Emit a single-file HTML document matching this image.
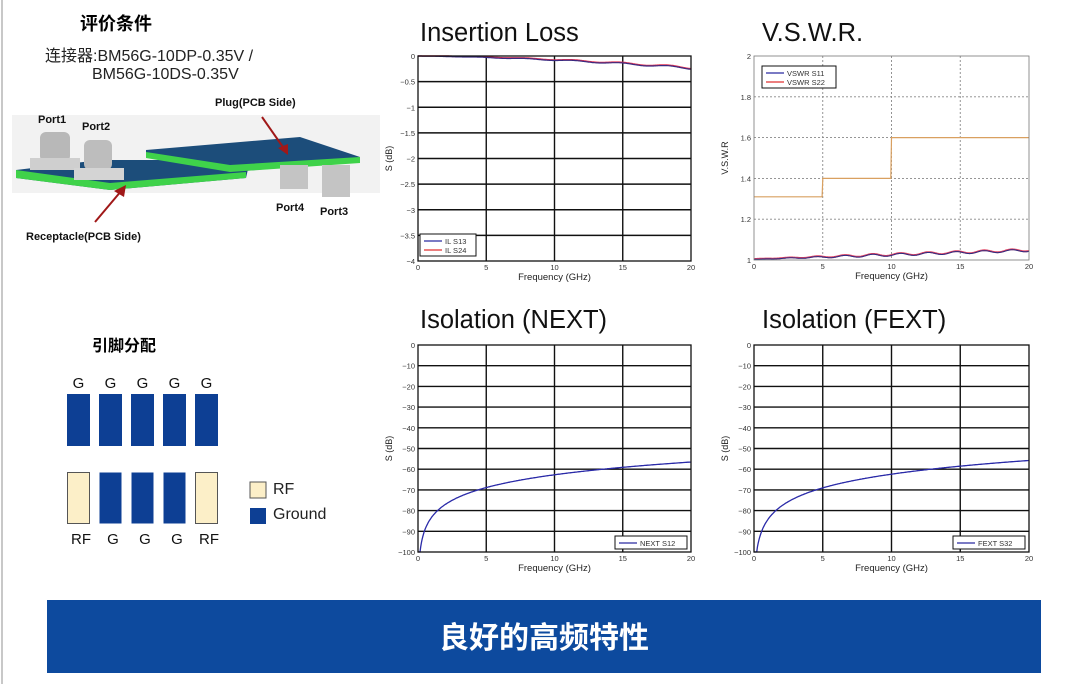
<!DOCTYPE html>
<html><head><meta charset="utf-8"><style>
body{margin:0;background:#fff;}
svg text{font-family:"Liberation Sans","Noto Sans CJK SC",sans-serif;}
</style></head><body>
<svg id="s" width="1075" height="684" xmlns="http://www.w3.org/2000/svg">
<rect width="1075" height="684" fill="#fff"/>
<line x1="2" y1="0" x2="2" y2="684" stroke="#c8c8c8" stroke-width="2"/>
<text x="80" y="30" font-size="18" font-weight="bold">评价条件</text>
<text x="45" y="61" font-size="16" fill="#222">连接器:BM56G-10DP-0.35V /</text>
<text x="92" y="79" font-size="16" fill="#222">BM56G-10DS-0.35V</text>
<rect x="12" y="115" width="368" height="78" fill="#f2f2f2"/>
<polygon points="16,170 100,160 250,160 246,178 110,190 16,178" fill="#1c4d7a"/>
<polygon points="16,170 110,183 246,172 246,178 110,190 16,178" fill="#3fd24a"/>
<polygon points="146,150 300,137 360,157 360,162 230,172 146,157" fill="#1c4d7a"/>
<polygon points="146,152 230,165 360,157 360,163 230,172 146,158" fill="#3fd24a"/>
<rect x="40" y="132" width="30" height="30" rx="6" fill="#b8b8b8"/>
<rect x="30" y="158" width="50" height="12" fill="#cfcfcf"/>
<rect x="84" y="140" width="28" height="30" rx="6" fill="#bdbdbd"/>
<rect x="74" y="168" width="50" height="12" fill="#d4d4d4"/>
<rect x="280" y="165" width="28" height="24" fill="#c4c4c4"/>
<rect x="322" y="165" width="28" height="32" fill="#c4c4c4"/>
<line x1="262" y1="117" x2="285" y2="150" stroke="#a01818" stroke-width="2"/>
<polygon points="288,155 278,148 288,144" fill="#a01818"/>
<line x1="95" y1="222" x2="122" y2="190" stroke="#a01818" stroke-width="2"/>
<polygon points="126,185 124,197 114,191" fill="#a01818"/>
<g font-size="11" font-weight="bold" fill="#111">
<text x="38" y="123">Port1</text><text x="82" y="130">Port2</text>
<text x="215" y="106">Plug(PCB Side)</text>
<text x="276" y="211">Port4</text><text x="320" y="215">Port3</text>
<text x="26" y="240">Receptacle(PCB Side)</text>
</g>
<text x="92" y="351" font-size="16" font-weight="bold">引脚分配</text>
<g id="pins"></g>
<text x="273" y="494" font-size="16" fill="#222">RF</text>
<text x="273" y="519" font-size="16" fill="#222">Ground</text>
<rect x="250" y="482" width="16" height="16" fill="#fcefc8" stroke="#555"/>
<rect x="250" y="508" width="16" height="16" fill="#0d3f94"/>
<g font-size="25.5" fill="#111">
<text x="420" y="41">Insertion Loss</text><text x="762" y="41">V.S.W.R.</text>
<text x="420" y="328">Isolation (NEXT)</text><text x="762" y="328">Isolation (FEXT)</text>
</g>
<g id="charts"></g>
<rect x="47" y="600" width="994" height="73" fill="#0d4a9e"/>
<text x="544" y="648" font-size="30" font-weight="bold" fill="#fff" text-anchor="middle">良好的高频特性</text>
</svg>
<script>
const NS="http://www.w3.org/2000/svg";
function el(p,t,a,txt){const e=document.createElementNS(NS,t);for(const k in a)e.setAttribute(k,a[k]);if(txt!==undefined)e.textContent=txt;p.appendChild(e);return e;}
const pins=document.getElementById('pins');
const lb=["RF","G","G","G","RF"];
for(let i=0;i<5;i++){const x=67+32*i;
el(pins,'rect',{x:x,y:394,width:23,height:52,fill:'#0d3f94'});
el(pins,'text',{x:x+11.5,y:388,'font-size':15,'text-anchor':'middle',fill:'#111'},'G');
const rf=(i==0||i==4);
el(pins,'rect',{x:x+.5,y:472.5,width:22,height:51,fill:rf?'#fcefc8':'#0d3f94',stroke:rf?'#555':'none'});
el(pins,'text',{x:x+14,y:544,'font-size':15,'text-anchor':'middle',fill:'#111'},lb[i]);}
const C=document.getElementById('charts');
function chart(o){
const {x0,x1,y0,y1,ymin,ymax,ystep,dotted,ylab,curves,legend,lpos}=o;
const g=el(C,'g',{});
const X=f=>x0+(x1-x0)*f/20, Y=v=>y0+(y1-y0)*(ymax-v)/(ymax-ymin);
el(g,'rect',{x:x0,y:y0,width:x1-x0,height:y1-y0,fill:'#fff'});
const n=Math.round((ymax-ymin)/ystep);
for(let i=0;i<=n;i++){const v=ymin+i*ystep,y=Y(v);
if(i>0&&i<n)el(g,'line',{x1:x0,x2:x1,y1:y,y2:y,stroke:dotted?'#888':'#111','stroke-width':dotted?0.9:1.4,'stroke-dasharray':dotted?'2,2':''});
let s=o.fmt(v);el(g,'text',{x:x0-3,y:y+3,'font-size':7.5,'text-anchor':'end',fill:'#333'},s);}
for(let f=0;f<=20;f+=5){const x=X(f);
if(f>0&&f<20)el(g,'line',{x1:x,x2:x,y1:y0,y2:y1,stroke:dotted?'#888':'#111','stroke-width':dotted?0.9:1.4,'stroke-dasharray':dotted?'2,2':''});
el(g,'text',{x:x,y:y1+9,'font-size':7.5,'text-anchor':'middle',fill:'#333'},f);}
el(g,'text',{x:(x0+x1)/2,y:y1+19,'font-size':9.5,'text-anchor':'middle',fill:'#222'},'Frequency (GHz)');
el(g,'text',{x:0,y:0,'font-size':9,'text-anchor':'middle',fill:'#222',transform:`translate(${x0-26},${(y0+y1)/2}) rotate(-90)`},ylab);
for(const c of curves){let d='';for(let i=0;i<=400;i++){const f=i*20/400;const v=Math.max(ymin,Math.min(ymax,c.fn(f)));d+=(i?'L':'M')+X(f).toFixed(1)+','+Y(v).toFixed(1);}
el(g,'path',{d:d,fill:'none',stroke:c.col,'stroke-width':c.w||1.2});}
el(g,'rect',{x:x0,y:y0,width:x1-x0,height:y1-y0,fill:'none',stroke:dotted?'#777':'#111','stroke-width':dotted?0.8:1.3});
if(legend){const [lx,ly,lw]=lpos;const h=legend.length*9+4;
el(g,'rect',{x:lx,y:ly,width:lw,height:h,fill:'#fff',stroke:'#111','stroke-width':1});
legend.forEach((L,i)=>{const yy=ly+7+i*9;el(g,'line',{x1:lx+4,x2:lx+22,y1:yy,y2:yy,stroke:L[1],'stroke-width':1.3});
el(g,'text',{x:lx+25,y:yy+3,'font-size':7.5,fill:'#333'},L[0]);});}
}
const il=f=>-0.004*f-0.0004*f*f+0.02*Math.sin(f*1.8)*f/20;
chart({x0:418,x1:691,y0:56,y1:261,ymin:-4,ymax:0,ystep:0.5,ylab:'S (dB)',fmt:v=>v==0?'0':(v+'').replace('-','−'),
curves:[{fn:f=>il(f)+0.01,col:'#e03050',w:1.6},{fn:il,col:'#3a2a80',w:1.2}],legend:[['IL S13','#2a2aa0'],['IL S24','#e03030']],lpos:[420,234,56]});
const vs=f=>1.005+0.0022*f+0.006*Math.sin(f*3.1)*Math.min(1,f/8);
chart({x0:754,x1:1029,y0:56,y1:260,ymin:1,ymax:2,ystep:0.2,dotted:true,ylab:'V.S.W.R',fmt:v=>Math.abs(v-Math.round(v))<1e-6?Math.round(v)+'':v.toFixed(1),
curves:[{fn:f=>f<5?1.31:(f<10?1.40:1.60),col:'#d9a060',w:1.2},{fn:vs,col:'#e04060',w:1.8},{fn:f=>vs(f)-0.002,col:'#2a2a80',w:1}],
legend:[['VSWR S11','#2a2aa0'],['VSWR S22','#e03030']],lpos:[762,66,74]});
const nx=(a,b)=>f=>f<=0?-100:a*Math.log10(f)+b;
chart({x0:418,x1:691,y0:345,y1:552,ymin:-100,ymax:0,ystep:10,ylab:'S (dB)',fmt:v=>v==0?'0':(v+'').replace('-','−'),
curves:[{fn:nx(20.5,-83.2),col:'#2a2aa8',w:1.3}],legend:[['NEXT S12','#2a2aa0']],lpos:[615,536,72]});
chart({x0:754,x1:1029,y0:345,y1:552,ymin:-100,ymax:0,ystep:10,ylab:'S (dB)',fmt:v=>v==0?'0':(v+'').replace('-','−'),
curves:[{fn:nx(22,-84.4),col:'#2a2aa8',w:1.3}],legend:[['FEXT S32','#2a2aa0']],lpos:[953,536,72]});
</script>
</body></html>
